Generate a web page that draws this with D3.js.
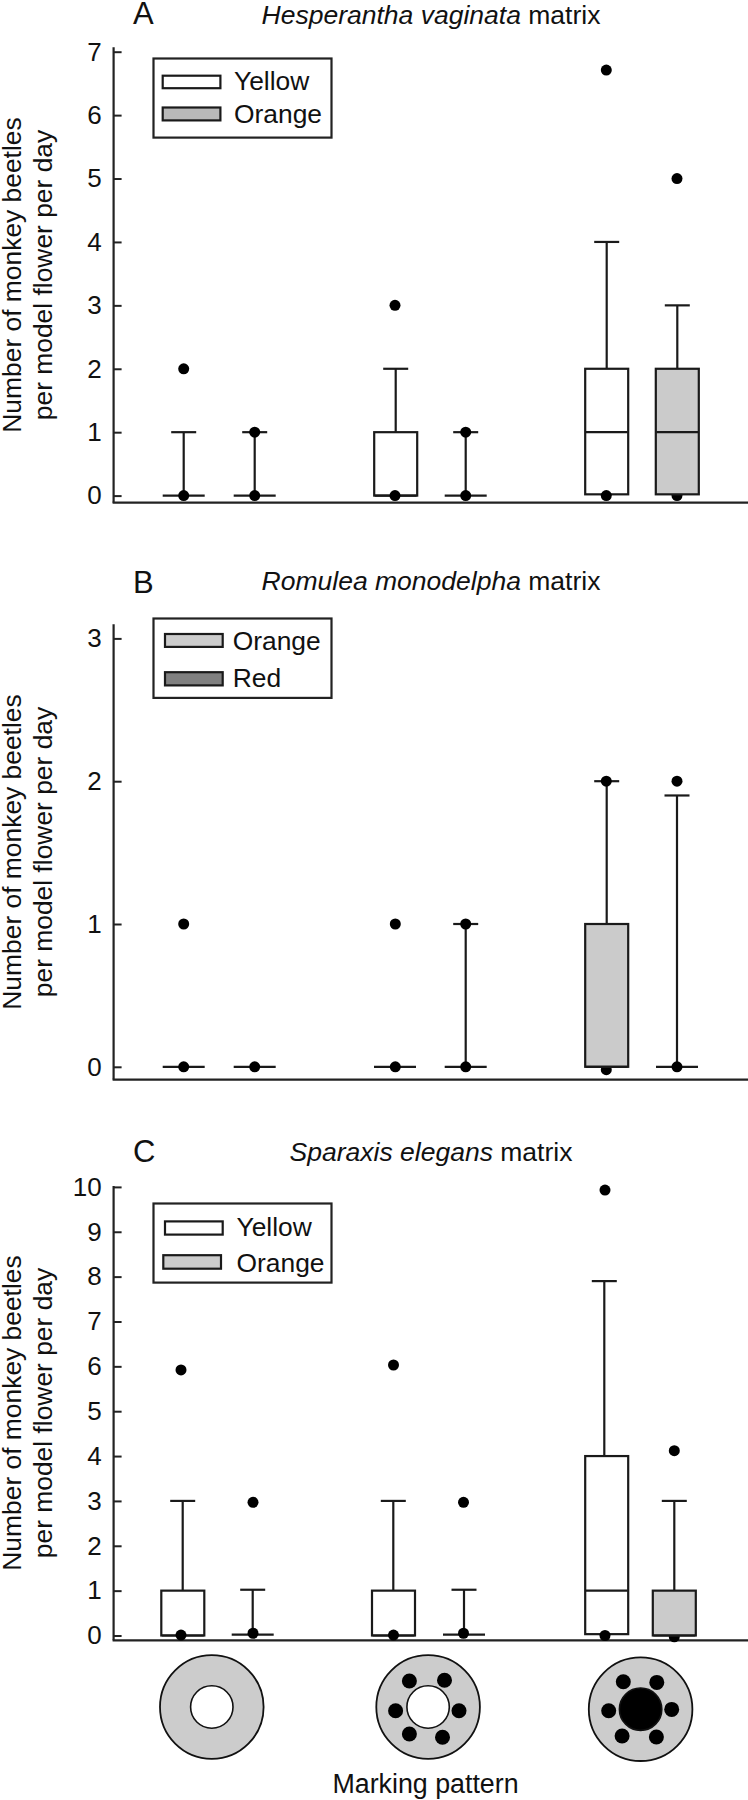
<!DOCTYPE html>
<html>
<head>
<meta charset="utf-8">
<script src="https://cdn.jsdelivr.net/npm/d3@7"></script>
<style>
  body { margin: 0; background: #fff; }
  text { font-family: "Liberation Sans", Arial, sans-serif; fill: #111; }
</style>
</head>
<body>
<div id="my_dataviz"></div>
<script>
// order of the six boxes, left to right: pattern 1-3, first then second colour
var boxKeys = ["p1a", "p1b", "p2a", "p2b", "p3a", "p3b"];

// panel A
var aTicks = [0, 1, 2, 3, 4, 5, 6, 7];
var aQ1 = [0, 0, 0, 0, 0.02, 0.02];
var aMedian = [0, 0, 0, 0, 1, 1];
var aQ3 = [0, 0, 1, 0, 2, 2];
var aWhisker = [1, 1, 2, 1, 4, 3];
var aDots = [[2, 0], [1, 0], [3, 0], [1, 0], [6.71, 0], [5, 0]];
var aLegend = ["Yellow", "Orange"];

// panel B
var bTicks = [0, 1, 2, 3];
var bQ1 = [0, 0, 0, 0, 0, 0];
var bMedian = [0, 0, 0, 0, 0, 0];
var bQ3 = [0, 0, 0, 0, 1, 0];
var bWhisker = [0, 0, 0, 1, 2, 1.9];
var bDots = [[1, 0], [0], [1, 0], [1, 0], [2, -0.02], [2, 0]];
var bLegend = ["Orange", "Red"];

// panel C
var cTicks = [0, 1, 2, 3, 4, 5, 6, 7, 8, 9, 10];
var cQ1 = [0, 0.02, 0, 0.02, 0.03, 0];
var cMedian = [0, 0.02, 0, 0.02, 1, 0];
var cQ3 = [1, 0.02, 1, 0.02, 4, 1];
var cWhisker = [3, 1.02, 3, 1.02, 7.9, 3];
var cDots = [[5.92, 0.01], [2.97, 0.05], [6.03, 0.01], [2.97, 0.05], [9.93, 0], [4.12, -0.03]];
var cLegend = ["Yellow", "Orange"];

var width = 748, height = 1800;
var axisX = 113.6;
var white = "#ffffff", grey = "#cbcbcb";

var svg = d3.select("#my_dataviz")
  .append("svg")
    .attr("width", width)
    .attr("height", height)
    .style("display", "block");

var panels = [
  { letter: "A", genus: "Hesperantha vaginata", letterY: 24.3, titleY: 23.7, titleX: 431,
    ticks: aTicks, q1: aQ1, median: aMedian, q3: aQ3, whisker: aWhisker, dots: aDots,
    yRange: [495.6, 51.7], axisTop: 47.3, base: 502.7,
    boxX: [183.7, 254.7, 395.7, 465.7, 606.7, 677.3],
    dotX: [183.7, 254.7, 395, 465.7, 606.3, 677],
    fills: [white, white, white, white, white, grey],
    legend: aLegend, legendFills: [white, "#b9b9b9"], legendBox: [58.5, 137.6], labelX: 234,
    swatches: [[162.7, 75.7, 88.2], [162.7, 107.5, 120.4]], labelY: [89.9, 123.4],
    titleMid: 275 },
  { letter: "B", genus: "Romulea monodelpha", letterY: 592.8, titleY: 590.4, titleX: 431,
    ticks: bTicks, q1: bQ1, median: bMedian, q3: bQ3, whisker: bWhisker, dots: bDots,
    yRange: [1066.8, 638.4], axisTop: 624.2, base: 1079.6,
    boxX: [183.7, 254.7, 395, 465.7, 606.7, 677],
    dotX: [183.7, 254.7, 395.3, 465.7, 606.3, 677],
    fills: [white, white, white, white, grey, white],
    legend: bLegend, legendFills: ["#cccccc", "#808080"], legendBox: [618.5, 697.9], labelX: 232.7,
    swatches: [[165, 634, 646.9], [165, 672.2, 685.4]], labelY: [649.6, 686.6],
    titleMid: 852 },
  { letter: "C", genus: "Sparaxis elegans", letterY: 1162.3, titleY: 1160.6, titleX: 431,
    ticks: cTicks, q1: cQ1, median: cMedian, q3: cQ3, whisker: cWhisker, dots: cDots,
    yRange: [1635.5, 1186.9], axisTop: 1186, base: 1640.3,
    boxX: [182.8, 252.7, 393.5, 464, 606.7, 674.3],
    whiskerX: [182.7, 252.7, 393.3, 464, 604.3, 674.3],
    dotX: [181, 253, 393.5, 463.5, 605, 674.3],
    fills: [white, white, white, white, white, grey],
    legend: cLegend, legendFills: [white, "#cccccc"], legendBox: [1203.5, 1282.6], labelX: 236.5,
    swatches: [[165, 1221.4, 1234.6], [163.3, 1255.2, 1268.7]], labelY: [1235.6, 1272],
    titleMid: 1413 }
];

var yTitle = [["Number of monkey beetles", 21], ["per model flower per day", 52]];

panels.forEach(function(p) {
  var g = svg.append("g");

  var y = d3.scaleLinear().domain([p.ticks[0], p.ticks[p.ticks.length - 1]]).range(p.yRange);
  var x = d3.scaleOrdinal().domain(boxKeys).range(p.boxX);
  var wx = d3.scaleOrdinal().domain(boxKeys).range(p.whiskerX || p.boxX);
  var dx = d3.scaleOrdinal().domain(boxKeys).range(p.dotX);

  // axes
  var axis = g.append("g")
    .attr("transform", "translate(" + axisX + ",0)")
    .call(d3.axisLeft(y).tickValues(p.ticks).tickFormat(d3.format("d")).tickSize(-8).tickPadding(12));
  axis.select(".domain").remove();
  axis.selectAll("line").attr("stroke", "#222").attr("stroke-width", 2);
  axis.selectAll("text").attr("font-size", 26).attr("font-family", "Liberation Sans").attr("fill", "#111");

  g.append("line").attr("x1", axisX).attr("x2", axisX).attr("y1", p.axisTop).attr("y2", p.base)
    .attr("stroke", "#222").attr("stroke-width", 2.2);
  g.append("line").attr("x1", axisX - 1).attr("x2", width).attr("y1", p.base).attr("y2", p.base)
    .attr("stroke", "#222").attr("stroke-width", 2.2);

  // panel letter and title
  g.append("text").attr("x", 133).attr("y", p.letterY).attr("font-size", 31).text(p.letter);
  var title = g.append("text").attr("x", p.titleX).attr("y", p.titleY)
    .attr("text-anchor", "middle").attr("font-size", 26.5);
  title.append("tspan").attr("font-style", "italic").text(p.genus);
  title.append("tspan").text(" matrix");

  // y title, two rotated lines
  yTitle.forEach(function(t) {
    g.append("text")
      .attr("transform", "translate(" + t[1] + "," + p.titleMid + ") rotate(-90)")
      .attr("text-anchor", "middle")
      .attr("font-size", 26.4)
      .text(t[0]);
  });

  // boxes
  boxKeys.forEach(function(k, i) {
    var box = g.append("g");
    var filled = p.fills[i] !== white;

    if (p.whisker[i] > p.q3[i]) {
      box.append("line").attr("x1", wx(k)).attr("x2", wx(k))
        .attr("y1", y(p.q3[i])).attr("y2", y(p.whisker[i]))
        .attr("stroke", "#1a1a1a").attr("stroke-width", 2.2);
      box.append("line").attr("x1", wx(k) - 12.5).attr("x2", wx(k) + 12.5)
        .attr("y1", y(p.whisker[i])).attr("y2", y(p.whisker[i]))
        .attr("stroke", "#1a1a1a").attr("stroke-width", 2.2);
    }

    function drawDots() {
      box.selectAll(null).data(p.dots[i]).enter().append("circle")
        .attr("cx", dx(k)).attr("cy", function(d) { return y(d); })
        .attr("r", 5.5).attr("fill", "#000");
    }
    function drawBox() {
      if (p.q3[i] > p.q1[i]) {
        box.append("rect")
          .attr("x", x(k) - 21.5).attr("width", 43)
          .attr("y", y(p.q3[i])).attr("height", y(p.q1[i]) - y(p.q3[i]))
          .attr("fill", p.fills[i]).attr("stroke", "#1a1a1a").attr("stroke-width", 2.2);
      }
      box.append("line").attr("x1", x(k) - 21).attr("x2", x(k) + 21)
        .attr("y1", y(p.median[i])).attr("y2", y(p.median[i]))
        .attr("stroke", "#1a1a1a").attr("stroke-width", 2.2);
    }

    // grey boxes sit over their zero dot, white ones under it
    if (filled) { drawDots(); drawBox(); } else { drawBox(); drawDots(); }
  });

  // legend
  var lg = g.append("g");
  lg.append("rect").attr("x", 153.5).attr("width", 178)
    .attr("y", p.legendBox[0]).attr("height", p.legendBox[1] - p.legendBox[0])
    .attr("fill", "#fff").attr("stroke", "#222").attr("stroke-width", 2.2);
  p.legend.forEach(function(name, i) {
    var s = p.swatches[i];
    lg.append("rect").attr("x", s[0]).attr("width", 57.7)
      .attr("y", s[1]).attr("height", s[2] - s[1])
      .attr("fill", p.legendFills[i]).attr("stroke", "#1a1a1a").attr("stroke-width", 2.2);
    lg.append("text").attr("x", p.labelX).attr("y", p.labelY[i]).attr("font-size", 26.4).text(name);
  });
});

// marking pattern pictograms under the last panel
var patterns = [
  { cx: 211.8, cy: 1707, centre: white, spots: [] },
  { cx: 428.1, cy: 1707, centre: white,
    spots: [[-18.7, -26], [16.4, -26.7], [-32.5, 3.7], [30.9, 3.7], [-18.7, 27], [14.4, 30.3]] },
  { cx: 640.6, cy: 1709.2, centre: "#000",
    spots: [[-17.3, -27.5], [16.2, -26.8], [-31.9, 1.5], [31.1, 0.2], [-18.5, 26.8], [15.8, 27.8]] }
];

patterns.forEach(function(f) {
  var g = svg.append("g").attr("transform", "translate(" + f.cx + "," + f.cy + ")");
  g.append("circle").attr("r", 51.8).attr("fill", "#cccccc").attr("stroke", "#111").attr("stroke-width", 1.8);
  g.append("circle").attr("r", 21.2).attr("fill", f.centre).attr("stroke", "#111").attr("stroke-width", 1.6);
  g.selectAll(null).data(f.spots).enter().append("circle")
    .attr("cx", function(d) { return d[0]; })
    .attr("cy", function(d) { return d[1]; })
    .attr("r", 7.5).attr("fill", "#000");
});

svg.append("text").attr("x", 425.5).attr("y", 1793).attr("text-anchor", "middle")
  .attr("font-size", 26.8).text("Marking pattern");
</script>
</body>
</html>
